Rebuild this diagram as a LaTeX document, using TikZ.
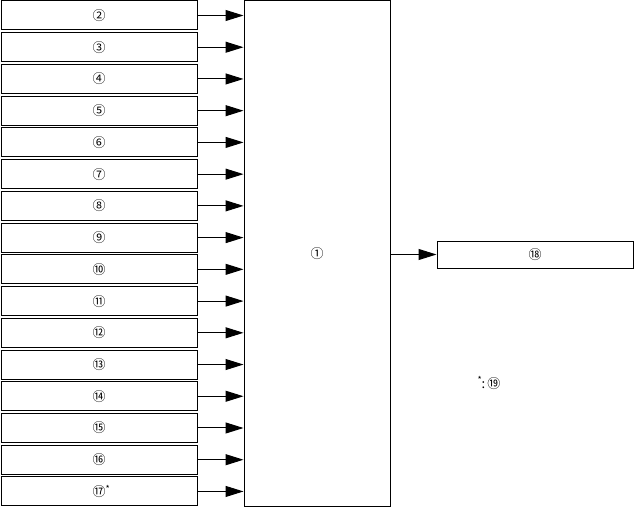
\documentclass[tikz,border=0pt]{standalone}
\usepackage{fontspec}
\setmainfont{Noto Sans CJK JP}
\usetikzlibrary{arrows.meta, positioning, calc}
\def\pitch{31.73}
\def\star{\raisebox{0.7ex}{\fontsize{9}{9}\selectfont*}}

\begin{document}
\begin{tikzpicture}[x=1pt, y=-1pt, font=\fontsize{13}{15}\selectfont,
    box/.style={draw, line width=1pt, inner sep=0pt, minimum width=196pt, minimum height=29pt},
    link/.style={line width=1pt, -{Triangle[length=18pt, width=11pt]}}]

\useasboundingbox (0,0) rectangle (634,508);

% bloque central
\node[draw, line width=1pt, inner sep=0pt, minimum width=146pt, minimum height=505pt] (main) at (317,253.5) {①};

% entradas
\foreach \i/\lbl in {0/②,1/③,2/④,3/⑤,4/⑥,5/⑦,6/⑧,7/⑨,8/⑩,9/⑪,10/⑫,11/⑬,12/⑭,13/⑮,14/⑯,15/⑰\rlap{\star}}{
    \node[box] (in\i) at (99,{15.5+\i*\pitch}) {\lbl};
    \draw[link] (in\i.east) -- (in\i.east -| main.west);
}

% salida
\node[box, minimum height=27pt] (out) at (535,254.5) {⑱};
\draw[link] (out.west -| main.east) -- (out.west);

\node (note) at (489,383) {\star:\,⑲};

\end{tikzpicture}
\end{document}
